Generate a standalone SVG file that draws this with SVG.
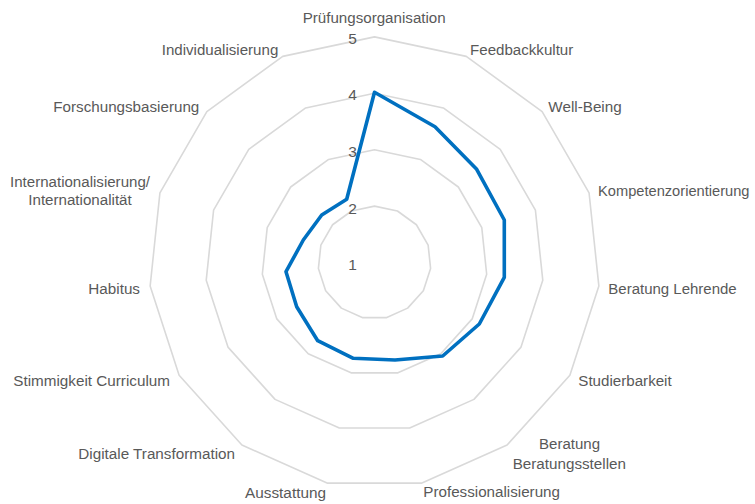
<svg xmlns="http://www.w3.org/2000/svg" width="755" height="504" viewBox="0 0 755 504">
<style>
.grid{fill:none;stroke:#d9d9d9;stroke-width:1.6;stroke-linejoin:round}
.lbl{font-family:"Liberation Sans",Arial,sans-serif;font-size:15.4px;fill:#595959}
.tick{font-family:"Liberation Sans",Arial,sans-serif;font-size:15.5px;fill:#595959;text-anchor:middle}
.data{fill:none;stroke:#0070c0;stroke-width:3.6;stroke-linejoin:round}
</style>
<rect width="755" height="504" fill="#ffffff"/>
<g id="grid" transform="translate(374.5,262.5)">
<polygon class="grid" points="0,-56.4 22.94,-51.52 41.91,-37.74 53.64,-17.43 56.09,5.9 48.84,28.2 33.15,45.63 11.73,55.17 -11.73,55.17 -33.15,45.63 -48.84,28.2 -56.09,5.9 -53.64,-17.43 -41.91,-37.74 -22.94,-51.52"/>
<polygon class="grid" points="0,-112.8 45.88,-103.05 83.83,-75.48 107.28,-34.86 112.18,11.79 97.69,56.4 66.3,91.26 23.45,110.34 -23.45,110.34 -66.3,91.26 -97.69,56.4 -112.18,11.79 -107.28,-34.86 -83.83,-75.48 -45.88,-103.05"/>
<polygon class="grid" points="0,-169.2 68.82,-154.57 125.74,-113.22 160.92,-52.29 168.27,17.69 146.53,84.6 99.45,136.89 35.18,165.5 -35.18,165.5 -99.45,136.89 -146.53,84.6 -168.27,17.69 -160.92,-52.29 -125.74,-113.22 -68.82,-154.57"/>
<polygon class="grid" points="0,-225.6 91.76,-206.1 167.65,-150.96 214.56,-69.71 224.36,23.58 195.38,112.8 132.61,182.51 46.9,220.67 -46.9,220.67 -132.61,182.51 -195.38,112.8 -224.36,23.58 -214.56,-69.71 -167.65,-150.96 -91.76,-206.1"/>
</g>
<g id="ticks">
<text class="tick" x="352.5" y="270">1</text>
<text class="tick" x="352.5" y="213.5">2</text>
<text class="tick" x="352.5" y="157">3</text>
<text class="tick" x="352.5" y="100">4</text>
<text class="tick" x="352.5" y="43.5">5</text>
</g>
<g id="series">
<polygon class="data" points="374.5,92.3 435,126.7 476.7,169.3 504.3,220 504.3,277.3 479.3,324 442.7,356 395,360 353.3,358.3 317.7,340.7 296.7,306.7 286,271.7 303.3,240 321.7,215 346.7,199.3"/>
</g>
<g id="labels">
<text id="l0" class="lbl" x="302.7" y="23" textLength="143" lengthAdjust="spacingAndGlyphs">Prüfungsorganisation</text>
<text id="l1" class="lbl" x="470" y="55" textLength="103.3" lengthAdjust="spacingAndGlyphs">Feedbackkultur</text>
<text id="l2" class="lbl" x="548.3" y="111.5" textLength="73.4" lengthAdjust="spacingAndGlyphs">Well-Being</text>
<text id="l3" class="lbl" x="598" y="196" font-size="14.6" style="font-size:14.6px" textLength="151.5" lengthAdjust="spacingAndGlyphs">Kompetenzorientierung</text>
<text id="l4" class="lbl" x="608.3" y="293.5" textLength="128.4" lengthAdjust="spacingAndGlyphs">Beratung Lehrende</text>
<text id="l5" class="lbl" x="578.3" y="385.5" textLength="93.4" lengthAdjust="spacingAndGlyphs">Studierbarkeit</text>
<text id="l6a" class="lbl" x="539" y="448.5" textLength="61" lengthAdjust="spacingAndGlyphs">Beratung</text>
<text id="l6b" class="lbl" x="512.7" y="468.5" textLength="113.3" lengthAdjust="spacingAndGlyphs">Beratungsstellen</text>
<text id="l7" class="lbl" x="423.3" y="497" textLength="136.7" lengthAdjust="spacingAndGlyphs">Professionalisierung</text>
<text id="l8" class="lbl" x="245" y="497.5" textLength="81" lengthAdjust="spacingAndGlyphs">Ausstattung</text>
<text id="l9" class="lbl" x="78.3" y="459" textLength="156.7" lengthAdjust="spacingAndGlyphs">Digitale Transformation</text>
<text id="l10" class="lbl" x="13.3" y="385.5" textLength="156.7" lengthAdjust="spacingAndGlyphs">Stimmigkeit Curriculum</text>
<text id="l11" class="lbl" x="88.3" y="293.5" textLength="51.7" lengthAdjust="spacingAndGlyphs">Habitus</text>
<text id="l12a" class="lbl" x="10" y="186.5" textLength="140" lengthAdjust="spacingAndGlyphs">Internationalisierung/</text>
<text id="l12b" class="lbl" x="28.3" y="205" textLength="103.4" lengthAdjust="spacingAndGlyphs">Internationalität</text>
<text id="l13" class="lbl" x="53.3" y="111.5" textLength="146" lengthAdjust="spacingAndGlyphs">Forschungsbasierung</text>
<text id="l14" class="lbl" x="161.7" y="55" textLength="116.6" lengthAdjust="spacingAndGlyphs">Individualisierung</text>
</g>
</svg>
